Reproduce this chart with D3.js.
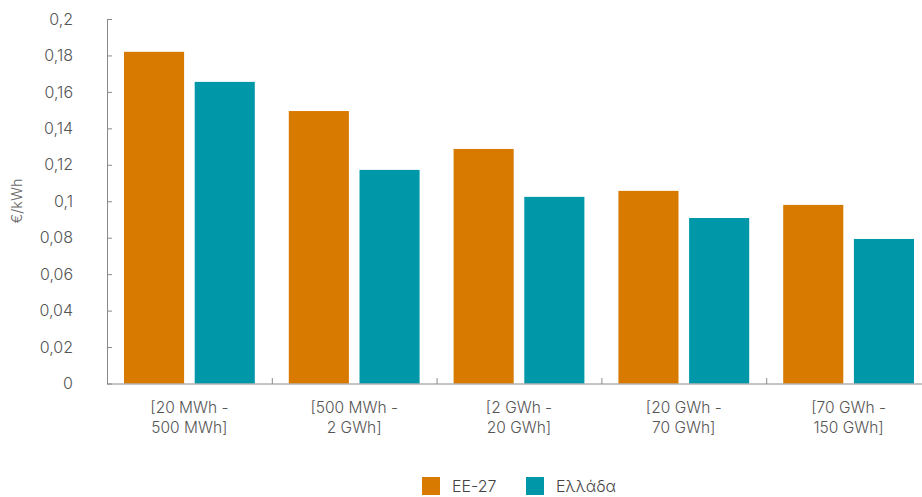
<!DOCTYPE html>
<html><head><meta charset="utf-8">
<script src="https://cdn.jsdelivr.net/npm/d3@7"></script>
<style>body{margin:0;background:#fff}svg{display:block;font-family:Inter,"Open Sans",sans-serif;font-weight:300}</style>
</head><body><svg id="c" width="922" height="497"></svg>
<script>
const categories = [["[20 MWh -","500 MWh]"],["[500 MWh -","2 GWh]"],["[2 GWh -","20 GWh]"],["[20 GWh -","70 GWh]"],["[70 GWh -","150 GWh]"]];
const seriesNames = ["ΕΕ-27","Ελλάδα"];
const eu27 = [0.182,0.1495,0.1287,0.1057,0.098];
const greece = [0.1655,0.1172,0.1024,0.0908,0.0793];
const yTicks = [0,0.02,0.04,0.06,0.08,0.1,0.12,0.14,0.16,0.18,0.2];
const colors = ["#D87A00","#0098A9"];

const svg = d3.select("#c");
const x0 = d3.scaleBand().domain(d3.range(categories.length)).range([107,931]).paddingInner(0).paddingOuter(0);
const x1 = d3.scaleBand().domain([0,1]).range([17, x0.bandwidth()-17]).paddingInner(0.15);
const y = d3.scaleLinear().domain([0,0.2]).range([383.5,19]);
const fmt = v => String(v).replace(".", ",");

// bars
const data = categories.map((c,i)=>[eu27[i],greece[i]]);
const g = svg.append("g");
data.forEach((vals,i)=>{
  vals.forEach((v,s)=>{
    g.append("rect")
      .attr("x", x0(i)+x1(s)).attr("width", x1.bandwidth())
      .attr("y", y(v)).attr("height", y(0)-y(v))
      .attr("fill", colors[s]);
  });
});

// y axis
const yAxis = d3.axisRight(y).tickValues(yTicks).tickSize(5).tickFormat("");
const ya = svg.append("g").attr("transform","translate(107,0)").call(yAxis);
ya.select(".domain").attr("stroke","#8a8a8a").attr("d","M0.5,19V384");
ya.selectAll(".tick line").attr("stroke","#8a8a8a");
svg.append("g").selectAll("text").data(yTicks).join("text")
  .attr("x",73).attr("y",d=>y(d)).attr("dy","0.35em").attr("text-anchor","end")
  .attr("font-size",16).attr("fill","#555").text(fmt);

// x axis
const xa = svg.append("g").attr("transform","translate(0,384)");
xa.append("line").attr("x1",107).attr("x2",922).attr("y1",0).attr("y2",0).attr("stroke","#8a8a8a");
xa.selectAll("line.tk").data(d3.range(1,categories.length)).join("line").attr("class","tk")
  .attr("x1",d=>x0(d)+0.5).attr("x2",d=>x0(d)+0.5).attr("y1",0).attr("y2",-6).attr("stroke","#8a8a8a");
const lab = svg.append("g").selectAll("text").data(categories).join("text")
  .attr("text-anchor","middle").attr("font-size",15.5).attr("fill","#555");
lab.each(function(c,i){
  const t = d3.select(this);
  c.forEach((line,k)=>{
    t.append("tspan").attr("x", x0(i)+x0.bandwidth()/2).attr("y", 413+k*20).text(line);
  });
});

// y title
svg.append("text").attr("transform","translate(22,201) rotate(-90)")
  .attr("text-anchor","middle").attr("font-size",14.5).attr("fill","#666").text("€/kWh");

// legend
const leg = svg.append("g");
const legX = [422,526];
seriesNames.forEach((n,i)=>{
  leg.append("rect").attr("x",legX[i]).attr("y",477).attr("width",18).attr("height",18).attr("fill",colors[i]);
  leg.append("text").attr("x",legX[i]+30).attr("y",486).attr("dy","0.35em")
    .attr("font-size",16).attr("fill","#444").text(n);
});
</script></body></html>
